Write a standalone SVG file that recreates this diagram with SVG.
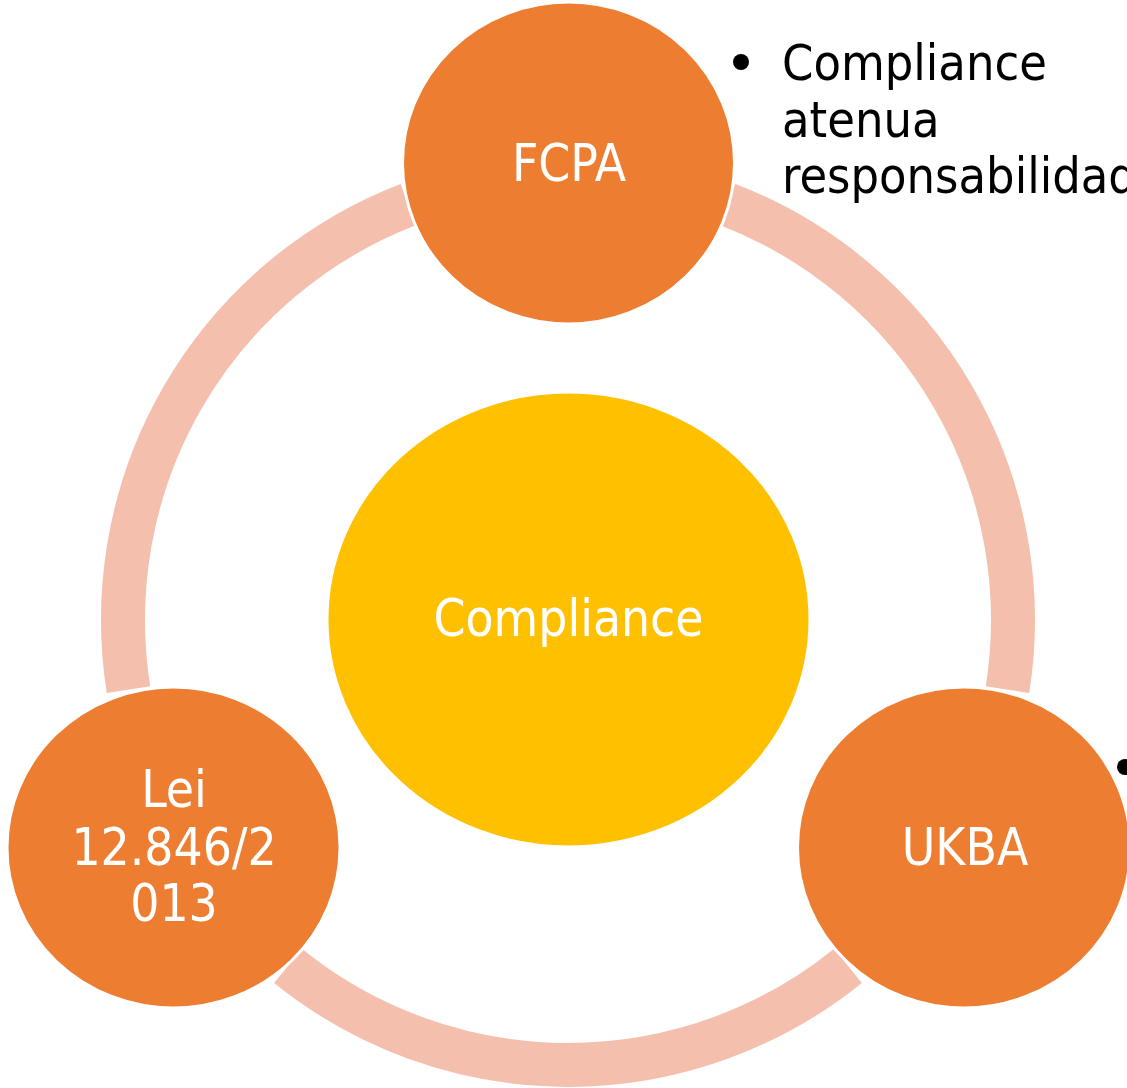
<svg xmlns="http://www.w3.org/2000/svg" width="1127" height="1088" viewBox="0 0 1127 1088">
<style>
.ring{fill:none;stroke:#F4BFAD;stroke-width:44;stroke-linecap:butt}
.node{fill:#ED7D31;stroke:#FFFFFF;stroke-width:3}
.center{fill:#FFC000;stroke:#FFFFFF;stroke-width:3}
.lbl{fill:#FFFFFF;font-family:"DejaVu Sans Condensed","DejaVu Sans",sans-serif;font-stretch:condensed;font-size:51px;text-anchor:middle}
.note{fill:#000000;font-family:"DejaVu Sans Condensed","DejaVu Sans",sans-serif;font-stretch:condensed;font-size:50px}
</style>
<rect width="1127" height="1088" fill="#FFFFFF"/>
<g id="connectors">
<path class="ring" d="M727.5,204.5 A445,445 0 0 1 1007.5,689.6"/>
<path class="ring" d="M848,965.8 A445,445 0 0 1 288,965.8"/>
<path class="ring" d="M128.5,689.6 A445,445 0 0 1 408.5,204.5"/>
</g>
<g id="center-compliance">
<ellipse class="center" cx="568.5" cy="619.5" rx="241.5" ry="227.5"/>
<text class="lbl" x="568.5" y="636">Compliance</text>
</g>
<g id="node-fcpa">
<ellipse class="node" cx="568.5" cy="163" rx="166" ry="161"/>
<text class="lbl" x="569" y="181">FCPA</text>
</g>
<g id="node-ukba">
<ellipse class="node" cx="964" cy="847.5" rx="166.5" ry="160.5"/>
<text class="lbl" x="965" y="865">UKBA</text>
</g>
<g id="node-lei">
<ellipse class="node" cx="173.5" cy="847.5" rx="166.5" ry="160.5"/>
<text class="lbl" x="174" y="807">Lei</text>
<text class="lbl" x="174" y="865">12.846/2</text>
<text class="lbl" x="174" y="921">013</text>
</g>
<g id="notes">
<circle cx="741" cy="62" r="8" fill="#000000"/>
<text class="note" x="782" y="80">Compliance</text>
<text class="note" x="782" y="137">atenua</text>
<text class="note" x="782" y="193">responsabilidade</text>
<circle cx="1125" cy="767" r="8" fill="#000000"/>
</g>
</svg>
